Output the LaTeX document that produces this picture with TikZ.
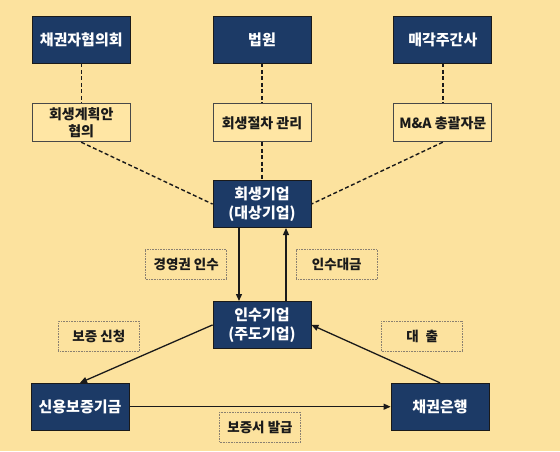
\documentclass[tikz,border=0pt]{standalone}
\usepackage{fontspec}
\setmainfont{Noto Sans CJK KR}[BoldFont={Noto Sans CJK KR Black}]
\usepackage{tikz}
\usetikzlibrary{arrows.meta, positioning, calc}
\definecolor{paper}{HTML}{FCE29E}
\definecolor{navy}{HTML}{1C3A66}
\definecolor{cream}{HTML}{FFE6A4}
\definecolor{ink}{HTML}{1A1A1A}
\definecolor{mute}{HTML}{8A8070}
\tikzset{
  darkbox/.style ={draw=ink, line width=0.8pt, fill=navy, text=white,
                   minimum width=98pt, minimum height=47pt, align=center,
                   font=\fontsize{15}{19}\selectfont\bfseries, inner sep=2pt},
  lightbox/.style={draw=ink!80, line width=0.8pt, fill=cream, text=ink,
                   minimum width=98pt, minimum height=38pt, align=center,
                   font=\fontsize{14}{17}\selectfont\bfseries, inner sep=2pt},
  tag/.style     ={draw=mute, densely dotted, line width=0.6pt, text=ink,
                   minimum width=81pt, minimum height=30pt, align=center,
                   font=\fontsize{13.5}{16}\selectfont\bfseries, inner sep=2pt},
  link/.style    ={dashed, dash pattern=on 4pt off 2.5pt, line width=1.4pt, draw=ink},
  flow/.style    ={-{Triangle[length=7pt,width=6pt]}, line width=1.3pt, draw=ink}
}
\begin{document}
\begin{tikzpicture}[node distance=40pt and 82pt]
  \fill[paper] (0,0) rectangle (560pt,-451pt);

  % top row
  \node[darkbox] (court) at (262pt,-39.5pt) {법원};
  \node[darkbox, left=of court]  (council) {채권자협의회};
  \node[darkbox, right=of court] (broker)  {매각주간사};

  % roles
  \node[lightbox, below=of council] (plan) {회생계획안\\협의};
  \node[lightbox, below=of court]   (proc) {회생절차 관리};
  \node[lightbox, below=of broker]  (mna)  {M\&A 총괄자문};

  % companies
  \node[darkbox, below=38pt of proc]   (target) {회생기업\\(대상기업)};
  \node[darkbox, below=73pt of target] (buyer)  {인수기업\\(주도기업)};
  \node[darkbox, below=34pt of buyer, xshift=-182pt] (fund) {신용보증기금};
  \node[darkbox, below=34pt of buyer, xshift=178pt]  (bank) {채권은행};

  % dashed relations
  \draw[link] (council) -- (plan);
  \draw[link] (court)   -- (proc);
  \draw[link] (broker)  -- (mna);
  \draw[link] (plan.south) -- (target.west);
  \draw[link] (proc)       -- (target);
  \draw[link] (mna.south)  -- (target.east);

  % flows
  \draw[flow] ([xshift=-23pt]target.south) -- ([xshift=-23pt]buyer.north);
  \draw[flow] ([xshift=24pt]buyer.north)   -- ([xshift=24pt]target.south);
  \draw[flow] (buyer.west) -- (fund.north);
  \draw[flow] (bank.north) -- (buyer.east);
  \draw[flow] (fund) -- (bank);

  % labels
  \coordinate (mid) at ($(target.south)!0.5!(buyer.north)$);
  \node[tag, left=35pt of mid]  (control) {경영권 인수};
  \node[tag, right=34pt of mid] (price)   {인수대금};
  \node[tag, left=73pt of buyer.west, yshift=-11.5pt]  (apply) {보증 신청};
  \node[tag, right=70pt of buyer.east, yshift=-11.5pt] (loan)  {대\enspace 출};
  \coordinate (base) at ($(fund.east)!0.5!(bank.west)$);
  \node[tag, below=5pt of base] (issue) {보증서 발급};
\end{tikzpicture}
\end{document}
